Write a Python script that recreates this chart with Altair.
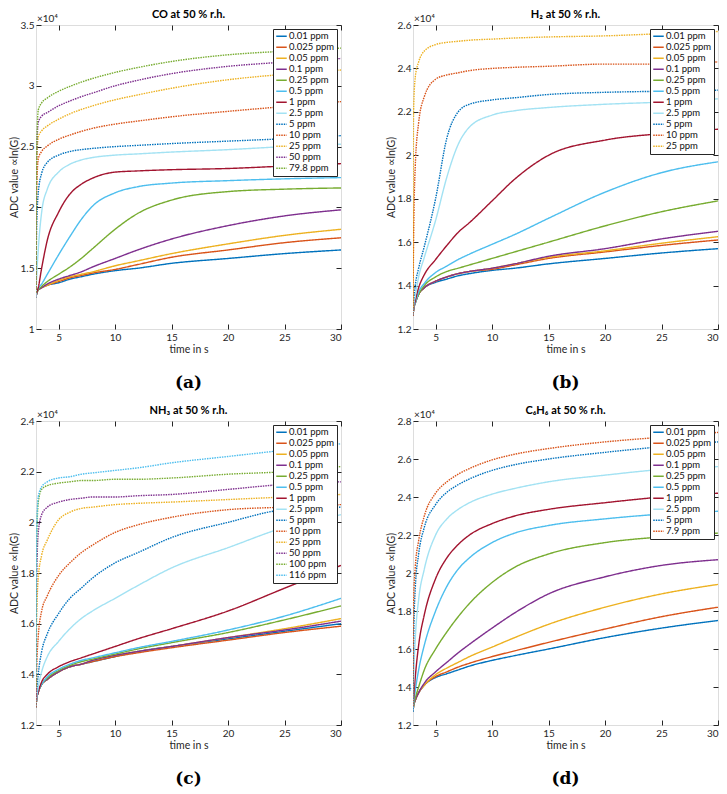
import altair as alt
import pandas as pd

T = [3, 3.05, 3.2, 3.5, 4, 5, 6, 7, 8, 10, 12, 15, 20, 25, 30]
X_TICKS = [5, 10, 15, 20, 25, 30]

# ---------------- CO (values in units of 1e4) ----------------
CO_LABELS = ["0.01 ppm", "0.025 ppm", "0.05 ppm", "0.1 ppm", "0.25 ppm", "0.5 ppm", "1 ppm",
             "2.5 ppm", "5 ppm", "10 ppm", "25 ppm", "50 ppm", "79.8 ppm"]
CO_VALUES = [
    [1.26, 1.29, 1.32, 1.34, 1.36, 1.38, 1.41, 1.43, 1.45, 1.48, 1.50, 1.54, 1.58, 1.62, 1.65],
    [1.26, 1.29, 1.32, 1.34, 1.36, 1.39, 1.42, 1.44, 1.46, 1.49, 1.53, 1.59, 1.65, 1.71, 1.75],
    [1.26, 1.29, 1.32, 1.34, 1.36, 1.40, 1.43, 1.45, 1.47, 1.52, 1.56, 1.62, 1.70, 1.77, 1.82],
    [1.26, 1.29, 1.32, 1.34, 1.37, 1.41, 1.44, 1.47, 1.51, 1.58, 1.65, 1.74, 1.85, 1.93, 1.98],
    [1.26, 1.29, 1.32, 1.35, 1.39, 1.45, 1.51, 1.58, 1.66, 1.82, 1.95, 2.06, 2.13, 2.15, 2.16],
    [1.26, 1.29, 1.33, 1.37, 1.45, 1.61, 1.76, 1.90, 2.01, 2.12, 2.17, 2.20, 2.22, 2.235, 2.245],
    [1.26, 1.29, 1.34, 1.50, 1.73, 1.96, 2.11, 2.19, 2.24, 2.29, 2.30, 2.31, 2.32, 2.34, 2.36],
    [1.26, 1.40, 1.65, 1.96, 2.15, 2.29, 2.355, 2.39, 2.41, 2.43, 2.44, 2.455, 2.475, 2.50, 2.52],
    [1.30, 1.80, 2.12, 2.28, 2.37, 2.43, 2.46, 2.475, 2.485, 2.50, 2.51, 2.525, 2.545, 2.565, 2.59],
    [1.30, 2.10, 2.40, 2.46, 2.505, 2.56, 2.595, 2.625, 2.65, 2.685, 2.71, 2.745, 2.79, 2.83, 2.87],
    [1.30, 2.30, 2.58, 2.63, 2.67, 2.725, 2.77, 2.805, 2.835, 2.885, 2.925, 2.98, 3.05, 3.095, 3.13],
    [1.30, 2.40, 2.70, 2.75, 2.78, 2.835, 2.875, 2.91, 2.94, 3.00, 3.045, 3.10, 3.16, 3.195, 3.225],
    [1.30, 2.45, 2.80, 2.86, 2.90, 2.955, 2.995, 3.03, 3.06, 3.11, 3.15, 3.20, 3.255, 3.285, 3.31],
]
CO_YDOMAIN = [1, 3.5]
CO_YTICKS = [1, 1.5, 2, 2.5, 3, 3.5]

# ---------------- H2 ----------------
H2_LABELS = ["0.01 ppm", "0.025 ppm", "0.05 ppm", "0.1 ppm", "0.25 ppm", "0.5 ppm", "1 ppm",
             "2.5 ppm", "5 ppm", "10 ppm", "25 ppm"]
H2_VALUES = [
    [1.26, 1.29, 1.32, 1.36, 1.39, 1.415, 1.43, 1.445, 1.455, 1.47, 1.48, 1.50, 1.525, 1.55, 1.57],
    [1.26, 1.29, 1.32, 1.36, 1.39, 1.42, 1.44, 1.455, 1.465, 1.475, 1.495, 1.525, 1.555, 1.585, 1.61],
    [1.26, 1.29, 1.32, 1.36, 1.39, 1.42, 1.44, 1.455, 1.465, 1.48, 1.50, 1.53, 1.56, 1.595, 1.625],
    [1.26, 1.29, 1.32, 1.36, 1.39, 1.42, 1.44, 1.455, 1.465, 1.48, 1.50, 1.535, 1.57, 1.615, 1.65],
    [1.26, 1.29, 1.32, 1.36, 1.40, 1.44, 1.465, 1.48, 1.495, 1.525, 1.555, 1.60, 1.675, 1.74, 1.79],
    [1.26, 1.29, 1.32, 1.37, 1.41, 1.46, 1.49, 1.52, 1.545, 1.59, 1.635, 1.71, 1.83, 1.92, 1.97],
    [1.26, 1.29, 1.33, 1.39, 1.45, 1.52, 1.585, 1.645, 1.69, 1.79, 1.89, 2.00, 2.07, 2.10, 2.12],
    [1.26, 1.30, 1.35, 1.44, 1.53, 1.70, 1.90, 2.05, 2.13, 2.185, 2.205, 2.22, 2.235, 2.245, 2.26],
    [1.26, 1.32, 1.40, 1.48, 1.58, 1.80, 2.08, 2.20, 2.235, 2.255, 2.265, 2.28, 2.29, 2.295, 2.30],
    [1.26, 1.60, 1.95, 2.15, 2.27, 2.35, 2.37, 2.38, 2.39, 2.40, 2.405, 2.41, 2.42, 2.42, 2.43],
    [1.30, 2.20, 2.36, 2.43, 2.48, 2.51, 2.52, 2.525, 2.53, 2.535, 2.54, 2.545, 2.55, 2.56, 2.57],
]
H2_YDOMAIN = [1.2, 2.6]
H2_YTICKS = [1.2, 1.4, 1.6, 1.8, 2, 2.2, 2.4, 2.6]

# ---------------- NH3 ----------------
NH3_LABELS = ["0.01 ppm", "0.025 ppm", "0.05 ppm", "0.1 ppm", "0.25 ppm", "0.5 ppm", "1 ppm",
              "2.5 ppm", "5 ppm", "10 ppm", "25 ppm", "50 ppm", "100 ppm", "116 ppm"]
NH3_VALUES = [
    [1.27, 1.30, 1.33, 1.36, 1.38, 1.41, 1.43, 1.44, 1.45, 1.47, 1.49, 1.51, 1.54, 1.57, 1.60],
    [1.27, 1.30, 1.33, 1.36, 1.38, 1.41, 1.43, 1.44, 1.45, 1.47, 1.485, 1.505, 1.535, 1.565, 1.59],
    [1.27, 1.30, 1.33, 1.36, 1.38, 1.41, 1.43, 1.44, 1.455, 1.475, 1.49, 1.51, 1.545, 1.58, 1.62],
    [1.27, 1.30, 1.33, 1.36, 1.38, 1.41, 1.43, 1.44, 1.455, 1.475, 1.49, 1.51, 1.545, 1.575, 1.61],
    [1.27, 1.30, 1.33, 1.36, 1.385, 1.415, 1.435, 1.45, 1.46, 1.48, 1.50, 1.525, 1.565, 1.615, 1.67],
    [1.27, 1.30, 1.33, 1.36, 1.39, 1.42, 1.44, 1.455, 1.465, 1.485, 1.505, 1.53, 1.575, 1.63, 1.70],
    [1.27, 1.30, 1.33, 1.37, 1.40, 1.43, 1.45, 1.465, 1.48, 1.51, 1.54, 1.58, 1.65, 1.74, 1.83],
    [1.27, 1.30, 1.35, 1.41, 1.47, 1.53, 1.58, 1.62, 1.65, 1.70, 1.75, 1.82, 1.90, 1.98, 2.03],
    [1.27, 1.32, 1.40, 1.49, 1.56, 1.64, 1.70, 1.74, 1.78, 1.84, 1.88, 1.94, 2.00, 2.05, 2.06],
    [1.27, 1.40, 1.55, 1.65, 1.71, 1.79, 1.84, 1.88, 1.91, 1.96, 1.99, 2.02, 2.05, 2.06, 2.07],
    [1.30, 1.60, 1.78, 1.87, 1.93, 2.01, 2.04, 2.055, 2.06, 2.07, 2.075, 2.08, 2.09, 2.10, 2.11],
    [1.30, 1.75, 1.96, 2.03, 2.06, 2.08, 2.09, 2.095, 2.10, 2.10, 2.105, 2.11, 2.13, 2.15, 2.16],
    [1.35, 1.90, 2.08, 2.13, 2.145, 2.155, 2.16, 2.165, 2.165, 2.17, 2.17, 2.175, 2.19, 2.20, 2.22],
    [1.40, 1.95, 2.10, 2.14, 2.16, 2.175, 2.18, 2.19, 2.195, 2.205, 2.215, 2.235, 2.26, 2.285, 2.31],
]
NH3_YDOMAIN = [1.2, 2.4]
NH3_YTICKS = [1.2, 1.4, 1.6, 1.8, 2, 2.2, 2.4]

# ---------------- C6H6 ----------------
C6H6_LABELS = ["0.01 ppm", "0.025 ppm", "0.05 ppm", "0.1 ppm", "0.25 ppm", "0.5 ppm", "1 ppm",
               "2.5 ppm", "5 ppm", "7.9 ppm"]
C6H6_VALUES = [
    [1.27, 1.30, 1.33, 1.37, 1.41, 1.45, 1.47, 1.49, 1.51, 1.54, 1.565, 1.60, 1.66, 1.71, 1.75],
    [1.27, 1.30, 1.33, 1.37, 1.41, 1.455, 1.48, 1.505, 1.525, 1.56, 1.59, 1.635, 1.705, 1.77, 1.82],
    [1.27, 1.30, 1.33, 1.37, 1.41, 1.465, 1.50, 1.53, 1.56, 1.61, 1.66, 1.73, 1.82, 1.89, 1.94],
    [1.27, 1.30, 1.33, 1.37, 1.42, 1.48, 1.53, 1.58, 1.625, 1.71, 1.79, 1.89, 1.98, 2.04, 2.07],
    [1.27, 1.30, 1.34, 1.40, 1.49, 1.60, 1.69, 1.77, 1.84, 1.95, 2.03, 2.10, 2.16, 2.19, 2.21],
    [1.27, 1.31, 1.38, 1.49, 1.62, 1.80, 1.93, 2.02, 2.08, 2.16, 2.21, 2.25, 2.285, 2.31, 2.325],
    [1.27, 1.33, 1.45, 1.62, 1.78, 1.97, 2.08, 2.15, 2.20, 2.26, 2.30, 2.335, 2.37, 2.40, 2.42],
    [1.27, 1.42, 1.65, 1.86, 2.02, 2.20, 2.285, 2.335, 2.37, 2.415, 2.445, 2.48, 2.515, 2.545, 2.56],
    [1.27, 1.62, 1.92, 2.10, 2.24, 2.36, 2.425, 2.465, 2.495, 2.54, 2.57, 2.60, 2.635, 2.665, 2.69],
    [1.30, 1.85, 2.03, 2.17, 2.30, 2.42, 2.48, 2.52, 2.55, 2.595, 2.625, 2.655, 2.69, 2.715, 2.74],
]
C6H6_YDOMAIN = [1.2, 2.8]
C6H6_YTICKS = [1.2, 1.4, 1.6, 1.8, 2, 2.2, 2.4, 2.6, 2.8]

TITLES = ["CO at 50 % r.h.", "H₂ at 50 % r.h.", "NH₃ at 50 % r.h.", "C₆H₆ at 50 % r.h."]
LETTERS = ["(a)", "(b)", "(c)", "(d)"]
EXPONENT = "×10⁴"
Y_TITLE = "ADC value ∝ln(G)"
X_TITLE = "time in s"

# MATLAB default colour order (+ light blue for 2.5 ppm)
SOLID_COLORS = ["#0072BD", "#D95319", "#EDB120", "#7E2F8E", "#77AC30", "#4DBEEE", "#A2142F", "#A3E2F3"]
DOTTED_COLORS = ["#0072BD", "#D95319", "#EDB120", "#7E2F8E", "#77AC30", "#4DBEEE"]

W, H = 305, 304
FONT = "Lato"
INK = "#262626"


def panel(title, letter, labels, values, ydom, yticks):
    n_dot = len(labels) - 8
    colors = SOLID_COLORS + DOTTED_COLORS[:n_dot]
    dashes = [[1, 0]] * 8 + [[1.5, 1]] * n_dot
    rows = [{"t": t, "v": v, "c": lab}
            for lab, vals in zip(labels, values) for t, v in zip(T, vals)]
    df = pd.DataFrame(rows)
    xs = alt.Scale(domain=[3, 30], nice=False, zero=False)
    ys = alt.Scale(domain=ydom, nice=False, zero=False)
    leg = alt.Legend(title=None, orient="top-right", offset=4, padding=2,
                     fillColor="white", strokeColor=INK, labelFont=FONT, labelFontSize=9.5,
                     labelFontWeight="normal", labelColor="#111", symbolType="stroke",
                     symbolSize=110, symbolStrokeWidth=1.6, rowPadding=0, clipHeight=10.6,
                     labelOffset=1)
    lab_ax = dict(ticks=False, tickSize=0, domain=False, grid=False, labelFont=FONT,
                  labelFontSize=10, labelFontWeight="normal", labelColor=INK,
                  titleFont=FONT, titleFontSize=10.5, titleFontWeight="normal", titleColor=INK)
    lines = alt.Chart(df).mark_line(strokeWidth=1.4, interpolate="monotone", clip=True).encode(
        x=alt.X("t:Q", scale=xs,
                axis=alt.Axis(values=X_TICKS, title=X_TITLE, labelPadding=3, titlePadding=2, **lab_ax)),
        y=alt.Y("v:Q", scale=ys,
                axis=alt.Axis(values=yticks, format="~g", title=Y_TITLE, labelPadding=2,
                              titlePadding=1, **lab_ax)),
        color=alt.Color("c:N", scale=alt.Scale(domain=labels, range=colors), legend=leg),
        strokeDash=alt.StrokeDash("c:N", scale=alt.Scale(domain=labels, range=dashes), legend=leg),
        order=alt.Order("t:Q"),
    )
    dom = pd.DataFrame({"t": [3, 30], "v": ydom})
    tick_ax = dict(ticks=True, tickSize=5, labels=False, domain=False, grid=False, title=None,
                   offset=-5, tickColor=INK, tickWidth=1)
    t1 = alt.Chart(dom).mark_point(opacity=0, size=0).encode(
        x=alt.X("t:Q", scale=xs, axis=alt.Axis(orient="bottom", values=X_TICKS, **tick_ax)),
        y=alt.Y("v:Q", scale=ys, axis=alt.Axis(orient="left", values=yticks, **tick_ax)),
    )
    t2 = alt.Chart(dom).mark_point(opacity=0, size=0).encode(
        x=alt.X("t:Q", scale=xs, axis=alt.Axis(orient="top", values=X_TICKS, **tick_ax)),
        y=alt.Y("v:Q", scale=ys, axis=alt.Axis(orient="right", values=yticks, **tick_ax)),
    )
    ttl = alt.Chart(pd.DataFrame({"s": [title]})).mark_text(
        align="center", baseline="middle", fontSize=11, font=FONT, fontWeight="bold", color="black"
    ).encode(x=alt.value(W / 2), y=alt.value(-10), text="s:N")
    exp = alt.Chart(pd.DataFrame({"s": [EXPONENT]})).mark_text(
        align="left", baseline="bottom", fontSize=10, font=FONT, color=INK
    ).encode(x=alt.value(1), y=alt.value(-1), text="s:N")
    lab = alt.Chart(pd.DataFrame({"s": [letter]})).mark_text(
        align="center", baseline="middle", fontSize=17, font="DejaVu Serif", fontWeight="bold",
        color="black"
    ).encode(x=alt.value(W / 2), y=alt.value(H + 54), text="s:N")
    return alt.layer(lines, t1, t2, ttl, exp, lab).resolve_scale(
        x="independent", y="independent"
    ).properties(width=W, height=H)


pa = panel(TITLES[0], LETTERS[0], CO_LABELS, CO_VALUES, CO_YDOMAIN, CO_YTICKS)
pb = panel(TITLES[1], LETTERS[1], H2_LABELS, H2_VALUES, H2_YDOMAIN, H2_YTICKS)
pc = panel(TITLES[2], LETTERS[2], NH3_LABELS, NH3_VALUES, NH3_YDOMAIN, NH3_YTICKS)
pd_ = panel(TITLES[3], LETTERS[3], C6H6_LABELS, C6H6_VALUES, C6H6_YDOMAIN, C6H6_YTICKS)

ind = dict(color="independent", strokeDash="independent")
row1 = alt.hconcat(pa, pb, spacing=43).resolve_scale(**ind)
row2 = alt.hconcat(pc, pd_, spacing=43).resolve_scale(**ind)

chart = alt.vconcat(row1, row2, spacing=12).resolve_scale(**ind).properties(
    padding=0
).configure_view(
    stroke=INK, strokeWidth=1
).configure(background="white")

chart.save("out.html", embed_options={"renderer": "svg", "actions": False})
